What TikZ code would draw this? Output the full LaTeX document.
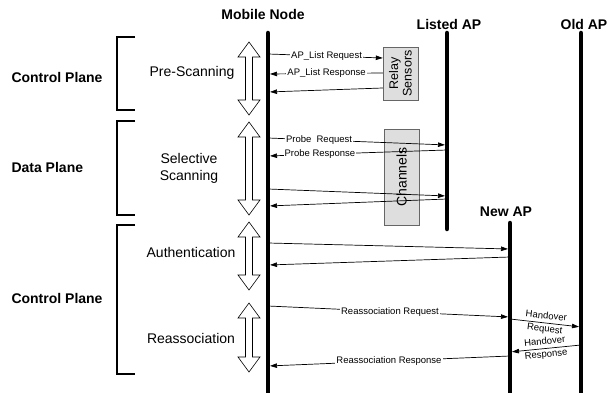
\documentclass[tikz,border=0pt]{standalone}
\usepackage{fontspec}
\setmainfont{Liberation Sans}
\usetikzlibrary{arrows.meta}

% hollow two-headed phase arrow: x, top y, bottom y
\newcommand\phasearrow[3]{%
  \draw[phase] (#1,#2) -- (#1+11,#2+15) -- (#1+3.5,#2+15) -- (#1+3.5,#3-15) -- (#1+11,#3-15)
    -- (#1,#3) -- (#1-11,#3-15) -- (#1-3.5,#3-15) -- (#1-3.5,#2+15) -- (#1-11,#2+15) -- cycle;}

\begin{document}
\begin{tikzpicture}[x=1pt,y=-1pt,
  lifeline/.style={line width=4.5pt,line cap=round},
  msg/.style={line width=0.7pt,shorten >=2pt,shorten <=2pt,-{Triangle[length=7pt,width=4.5pt]}},
  msgtext/.style={font=\fontsize{9.5}{10.5}\selectfont,fill=white,inner sep=1pt},
  hotext/.style={font=\fontsize{9.5}{13}\selectfont,align=center,inner sep=0pt,sloped},
  head/.style={font=\fontsize{14}{16}\selectfont\bfseries},
  plane/.style={font=\fontsize{14}{16}\selectfont\bfseries,anchor=west},
  stage/.style={font=\fontsize{14}{17}\selectfont,align=center},
  bracket/.style={line width=1.6pt},
  phase/.style={line width=0.6pt,line join=miter},
  sensor/.style={draw=black!60,fill=black!13,rotate=90,align=center,inner sep=1pt}]
\useasboundingbox (0,0) rectangle (607,393);

% lifelines
\node[head] (mnlabel) at (263,14) {Mobile Node};
\node[head] (lalabel) at (449,24) {Listed AP};
\node[head] (nalabel) at (506,212) {New AP};
\node[head] (oalabel) at (584,24) {Old AP};
\coordinate (mn) at (268,33);
\coordinate (mnend) at (268,393);
\coordinate (la) at (447,33);
\coordinate (laend) at (447,229);
\coordinate (na) at (510,223);
\coordinate (naend) at (510,393);
\coordinate (oa) at (581,33);
\coordinate (oaend) at (581,393);
\draw[lifeline] (mn) -- (mnend);
\draw[lifeline] (la) -- (laend);
\draw[lifeline] (na) -- (naend);
\draw[lifeline] (oa) -- (oaend);

% planes
\node[plane] (cp1) at (8,77) {Control Plane};
\node[plane] (dp) at (8,167) {Data Plane};
\node[plane] (cp2) at (8,298) {Control Plane};
\draw[bracket] (135,37) -- (117,37) -- (117,110) -- (135,110);
\draw[bracket] (135,121) -- (117,121) -- (117,215) -- (135,215);
\draw[bracket] (135,225) -- (117,225) -- (117,374) -- (135,374);

% phases
\node[stage] (pretxt) at (192,73) {Pre-Scanning};
\node[stage] (seltxt) at (189,168) {Selective\\Scanning};
\node[stage] (authtxt) at (191,252) {Authentication};
\node[stage] (reastxt) at (191,338) {Reassociation};
\phasearrow{249}{42}{115}
\phasearrow{249}{122}{215}
\phasearrow{249}{222}{290}
\phasearrow{249}{303}{372}

% boxes
\node[sensor,minimum width=53pt,minimum height=35pt,font=\fontsize{12.5}{13.5}\selectfont] (rs) at (400.5,73.5) {Relay\\Sensors};
\node[sensor,minimum width=96pt,minimum height=35pt,font=\fontsize{14}{16}\selectfont] (ch) at (401.5,177) {Channels};

% messages
\draw[msg,shorten >=0pt] (mn |- 0,54) -- node[msgtext,pos=0.51] {AP\_List Request} (rs.north |- 0,58);
\draw[msg,shorten <=0pt] (rs.north |- 0,73) -- node[msgtext,pos=0.49] {AP\_List Response} (mn |- 0,74);
\draw[msg,shorten <=0pt] (rs.north |- 0,88) -- (mn |- 0,92);
\draw[msg] (mn |- 0,138) -- node[msgtext,pos=0.285] {Probe\ \ Request} (la |- 0,145);
\draw[msg] (la |- 0,150) -- node[msgtext,pos=0.71] {Probe Response} (mn |- 0,156);
\draw[msg] (mn |- 0,189) -- (la |- 0,196);
\draw[msg] (la |- 0,199) -- (mn |- 0,206);
\draw[msg] (mn |- 0,243) -- (na |- 0,249);
\draw[msg] (na |- 0,257) -- (mn |- 0,265);
\draw[msg] (mn |- 0,306) -- node[msgtext,pos=0.504] {Reassociation Request} (na |- 0,317);
\draw[msg] (na |- 0,319) -- node[hotext] {Handover\\Request} (oa |- 0,327);
\draw[msg] (oa |- 0,345) -- node[hotext] {Handover\\Response} (na |- 0,352);
\draw[msg] (na |- 0,356) -- node[msgtext,pos=0.5] {Reassociation Response} (mn |- 0,366);
\end{tikzpicture}
\end{document}
